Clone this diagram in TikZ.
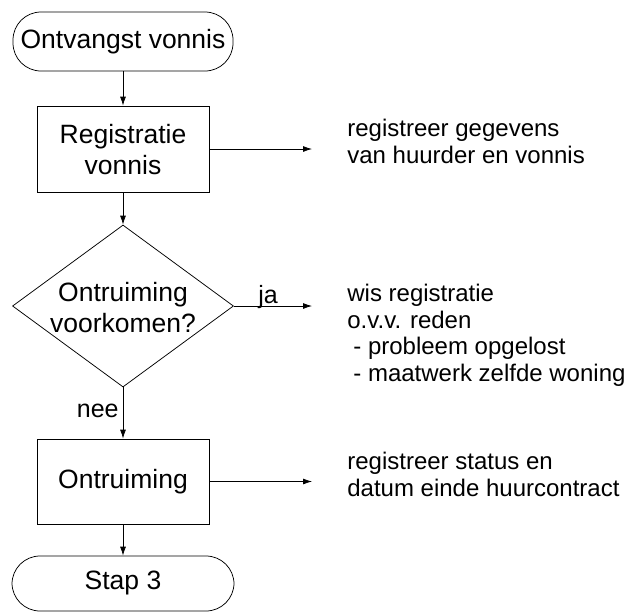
\documentclass[tikz,border=0pt]{standalone}
\usepackage{fontspec}
\setmainfont{Liberation Sans}
\usetikzlibrary{arrows.meta,shapes.geometric}
\begin{document}
\begin{tikzpicture}[x=1pt,y=-1pt,
  line width=0.75pt,
  flow/.style={-{Latex[length=9pt,width=6pt]}},
  boxtext/.style={font=\fontsize{26.5}{31}\selectfont,align=center,inner sep=0pt},
  sidetext/.style={font=\fontsize{24}{26.5}\selectfont,align=left,inner sep=0pt,anchor=base west},
  lbl/.style={font=\fontsize{25}{28}\selectfont,inner sep=0pt},
  terminal/.style={draw,rounded corners=28pt,inner sep=0pt},
  procbox/.style={draw,minimum width=172pt,minimum height=86pt,inner sep=0pt}]
\useasboundingbox (0,0) rectangle (629,611);
% main column
\node[terminal,minimum width=220pt,minimum height=59pt] (t1) at (123,41.5) {};
\node[boxtext] (t1t) at (123,42) {Ontvangst vonnis};
\node[procbox] (b1) at (123,149) {};
\node[boxtext] (b1t) at (123,150) {Registratie\\vonnis};
\node[draw,diamond,minimum width=221pt,minimum height=162pt,inner sep=0pt] (d) at (123,306) {};
\node[boxtext] (dt) at (123,308) {Ontruiming\\voorkomen?};
\node[procbox,minimum height=85pt] (b2) at (123,481.5) {};
\node[boxtext] (b2t) at (123,482) {Ontruiming};
\node[terminal,minimum width=222pt,minimum height=55pt] (t2) at (123,583.5) {};
\node[boxtext] (t2t) at (123,583) {Stap 3};
% vertical connectors
\draw[flow] (t1.south) -- (b1.north);
\draw[flow] (b1.south) -- (d.north);
\draw[flow] (d.south) -- (b2.north);
\draw[flow] (b2.south) -- (t2.north);
% side arrows
\coordinate (e1) at (312,149);
\coordinate (e2) at (312,306);
\coordinate (e3) at (312,481.5);
\draw[flow] (b1.east) -- (e1);
\draw[flow] (d.east) -- (e2);
\draw[flow] (b2.east) -- (e3);
% labels
\node[lbl,anchor=base west] (ja) at (258,303) {ja};
\node[lbl,anchor=base east] (nee) at (119,417) {nee};
% side texts (base anchor = last line)
\node[sidetext] (s1) at (347,163) {registreer gegevens\\van huurder en vonnis};
\node[sidetext] (s2) at (347,381) {wis registratie\\o.v.v. reden\\\hspace*{6pt}- probleem opgelost\\\hspace*{6pt}- maatwerk zelfde woning};
\node[sidetext] (s3) at (347,496) {registreer status en\\datum einde huurcontract};
\end{tikzpicture}
\end{document}
